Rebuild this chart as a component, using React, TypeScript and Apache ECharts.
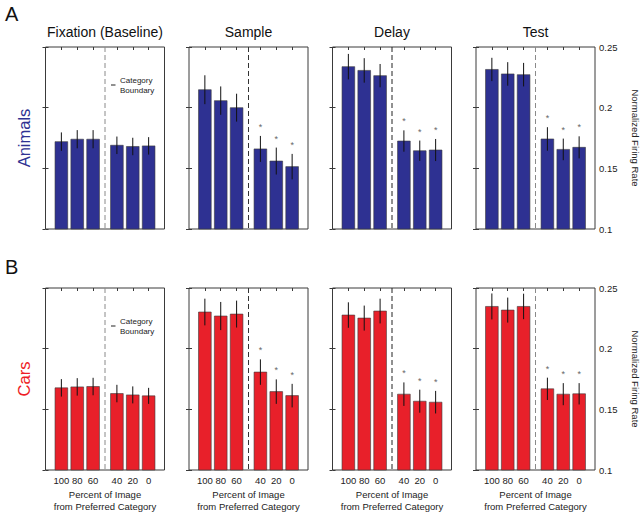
import React, { useEffect, useRef } from "react";
import * as echarts from "echarts";

const categories = ["100", "80", "60", "40", "20", "0"];
const xPositions = [1, 2, 3, 4.5, 5.5, 6.5];
const panelTitles = ["Fixation (Baseline)", "Sample", "Delay", "Test"];
const rowLabels = ["Animals", "Cars"];
const yTickValues = [0.1, 0.15, 0.2, 0.25];

const animalsFixation = [0.172, 0.174, 0.174, 0.169, 0.168, 0.1685];
const animalsFixationErr = [0.0076, 0.0075, 0.0075, 0.0072, 0.0072, 0.0072];
const animalsSample = [0.2148, 0.2058, 0.2, 0.166, 0.156, 0.1514];
const animalsSampleErr = [0.0119, 0.0117, 0.0115, 0.0107, 0.0111, 0.0105];
const animalsDelay = [0.2338, 0.2307, 0.2264, 0.1725, 0.1645, 0.1651];
const animalsDelayErr = [0.0105, 0.0101, 0.0096, 0.0088, 0.0084, 0.0091];
const animalsTest = [0.2315, 0.2278, 0.2272, 0.1742, 0.1656, 0.1673];
const animalsTestErr = [0.0096, 0.0097, 0.0097, 0.0097, 0.0089, 0.0091];

const carsFixation = [0.1677, 0.1685, 0.1688, 0.163, 0.1619, 0.1611];
const carsFixationErr = [0.0072, 0.0072, 0.0072, 0.0072, 0.007, 0.0066];
const carsSample = [0.2302, 0.2269, 0.2285, 0.1807, 0.1646, 0.1613];
const carsSampleErr = [0.011, 0.0116, 0.0111, 0.0105, 0.0101, 0.0097];
const carsDelay = [0.2277, 0.2252, 0.231, 0.1625, 0.1567, 0.1559];
const carsDelayErr = [0.0105, 0.0103, 0.0102, 0.0097, 0.0095, 0.0093];
const carsTest = [0.2348, 0.2318, 0.2348, 0.1669, 0.1625, 0.1628];
const carsTestErr = [0.0107, 0.0103, 0.0105, 0.0092, 0.0091, 0.0088];

// significance markers (1 = asterisk) per panel
const sigFixation = [0, 0, 0, 0, 0, 0];
const sigOther = [0, 0, 0, 1, 1, 1];

const FONT = "'Liberation Sans', Arial, Helvetica, sans-serif";
const BLUE = "#2E3192";
const RED = "#E8202A";

const rows = [
  {
    color: BLUE,
    labelColor: "#2E3192",
    values: [animalsFixation, animalsSample, animalsDelay, animalsTest],
    errs: [animalsFixationErr, animalsSampleErr, animalsDelayErr, animalsTestErr],
  },
  {
    color: RED,
    labelColor: "#EE1C25",
    values: [carsFixation, carsSample, carsDelay, carsTest],
    errs: [carsFixationErr, carsSampleErr, carsDelayErr, carsTestErr],
  },
];

const panelLefts = [45.5, 189, 332.5, 476];
const panelWidth = 119;
const rowTops = [47, 288];
const panelHeight = 182;
const dashColors = ["#8a8a8a", "#333333", "#222222", "#8a8a8a"];

export default function App() {
  const ref = useRef<HTMLDivElement>(null);

  useEffect(() => {
    if (!ref.current) return;
    const chart = echarts.init(ref.current, null, { renderer: "svg" });

    const grids: any[] = [];
    const xAxes: any[] = [];
    const yAxes: any[] = [];
    const series: any[] = [];
    const graphics: any[] = [];

    rows.forEach((row, r) => {
      for (let p = 0; p < 4; p++) {
        const gi = r * 4 + p;
        grids.push({
          left: panelLefts[p],
          top: rowTops[r],
          width: panelWidth,
          height: panelHeight,
          show: true,
          borderColor: "#3a3a3a",
          borderWidth: 1,
          backgroundColor: "transparent",
          containLabel: false,
        });
        const isBottomRow = r === 1;
        xAxes.push({
          type: "value",
          gridIndex: gi,
          position: "bottom",
          min: 0,
          max: 7.5,
          axisLine: { show: false },
          splitLine: { show: false },
          axisTick: {
            show: true,
            inside: true,
            length: 3,
            customValues: xPositions,
            lineStyle: { color: "#3a3a3a" },
          },
          axisLabel: {
            show: isBottomRow,
            customValues: xPositions,
            margin: 5,
            fontSize: 9.5,
            fontFamily: FONT,
            color: "#222",
            formatter: (v: number) => {
              const idx = xPositions.findIndex((x) => Math.abs(x - v) < 1e-6);
              return idx >= 0 ? categories[idx] : "";
            },
          },
        });
        xAxes.push({
          type: "value",
          gridIndex: gi,
          position: "top",
          min: 0,
          max: 7.5,
          axisLine: { show: false },
          splitLine: { show: false },
          axisTick: {
            show: true,
            inside: true,
            length: 3,
            customValues: xPositions,
            lineStyle: { color: "#3a3a3a" },
          },
          axisLabel: { show: false },
        });
        yAxes.push({
          type: "value",
          gridIndex: gi,
          position: "left",
          min: 0.1,
          max: 0.25,
          interval: 0.05,
          axisLine: { show: false },
          splitLine: { show: false },
          axisTick: { show: true, inside: true, length: 3, lineStyle: { color: "#3a3a3a" } },
          axisLabel: { show: false },
        });
        yAxes.push({
          type: "value",
          gridIndex: gi,
          position: "right",
          min: 0.1,
          max: 0.25,
          interval: 0.05,
          axisLine: { show: false },
          splitLine: { show: false },
          axisTick: { show: true, inside: true, length: 3, lineStyle: { color: "#3a3a3a" } },
          axisLabel: {
            show: p === 3,
            customValues: yTickValues,
            margin: 4,
            fontSize: 9.5,
            fontFamily: FONT,
            color: "#222",
            formatter: (v: number) => String(Math.round(v * 100) / 100),
          },
        });

        const vals = row.values[p];
        const errs = row.errs[p];
        const sig = p === 0 ? sigFixation : sigOther;
        const data = vals.map((v, i) => [xPositions[i], v, errs[i], sig[i]]);
        const barColor = row.color;
        const dashColor = dashColors[p];

        series.push({
          type: "custom",
          xAxisIndex: gi * 2,
          yAxisIndex: gi * 2,
          silent: true,
          clip: false,
          data,
          renderItem: (params: any, api: any) => {
            const x = api.value(0);
            const v = api.value(1);
            const e = api.value(2);
            const s = api.value(3);
            const top = api.coord([x, v]);
            const base = api.coord([x, 0.1]);
            const w = api.size([0.8, 0])[0];
            const eTop = api.coord([x, v + e]);
            const eBot = api.coord([x, v - e]);
            const children: any[] = [
              {
                type: "rect",
                shape: { x: top[0] - w / 2, y: top[1], width: w, height: base[1] - top[1] },
                style: { fill: barColor, stroke: "#3a3a3a", lineWidth: 0.6 },
              },
              {
                type: "line",
                shape: { x1: eTop[0], y1: eTop[1], x2: eBot[0], y2: eBot[1] },
                style: { stroke: "#111", lineWidth: 1 },
              },
            ];
            if (s) {
              children.push({
                type: "text",
                x: eTop[0],
                y: eTop[1] - 9,
                style: {
                  text: "*",
                  fontSize: 9,
                  fontFamily: FONT,
                  fill: "#666",
                  align: "center",
                  verticalAlign: "middle",
                },
              });
            }
            if (params.dataIndex === 0) {
              const d1 = api.coord([3.75, 0.25]);
              const d2 = api.coord([3.75, 0.1]);
              children.push({
                type: "line",
                shape: { x1: d1[0], y1: d1[1], x2: d2[0], y2: d2[1] },
                style: { stroke: dashColor, lineWidth: 1, lineDash: [5, 3] },
              });
            }
            return { type: "group", children };
          },
        });

        if (p === 0) {
          const ly = rowTops[r] + 38;
          graphics.push({
            type: "line",
            shape: { x1: 111, y1: ly, x2: 115.5, y2: ly },
            style: { stroke: "#222", lineWidth: 1 },
          });
          graphics.push({
            type: "text",
            x: 120,
            y: ly - 4.5,
            style: { text: "Category", fontSize: 8, fontFamily: FONT, fill: "#222", align: "left", verticalAlign: "middle" },
          });
          graphics.push({
            type: "text",
            x: 120,
            y: ly + 5.5,
            style: { text: "Boundary", fontSize: 8, fontFamily: FONT, fill: "#222", align: "left", verticalAlign: "middle" },
          });
        }

        if (r === 0) {
          graphics.push({
            type: "text",
            x: panelLefts[p] + panelWidth / 2,
            y: 32,
            style: { text: panelTitles[p], fontSize: 14, fontFamily: FONT, fill: "#111", align: "center", verticalAlign: "middle" },
          });
        }
        if (r === 1) {
          graphics.push({
            type: "text",
            x: panelLefts[p] + panelWidth / 2,
            y: 494.3,
            style: { text: "Percent of Image", fontSize: 9.5, fontFamily: FONT, fill: "#222", align: "center", verticalAlign: "middle" },
          });
          graphics.push({
            type: "text",
            x: panelLefts[p] + panelWidth / 2,
            y: 506,
            style: { text: "from Preferred Category", fontSize: 9.5, fontFamily: FONT, fill: "#222", align: "center", verticalAlign: "middle" },
          });
        }
      }

      const cy = rowTops[r] + panelHeight / 2;
      graphics.push({
        type: "text",
        x: 24,
        y: cy,
        rotation: Math.PI / 2,
        style: { text: rowLabels[r], fontSize: 16.5, fontFamily: FONT, fill: row.labelColor, align: "center", verticalAlign: "middle" },
      });
      graphics.push({
        type: "text",
        x: 635.5,
        y: cy,
        rotation: -Math.PI / 2,
        style: { text: "Normalized Firing Rate", fontSize: 9.5, fontFamily: FONT, fill: "#222", align: "center", verticalAlign: "middle" },
      });
    });

    graphics.push({
      type: "text",
      x: 11.7,
      y: 14,
      style: { text: "A", fontSize: 20, fontFamily: FONT, fill: "#111", align: "center", verticalAlign: "middle" },
    });
    graphics.push({
      type: "text",
      x: 11.7,
      y: 267,
      style: { text: "B", fontSize: 20, fontFamily: FONT, fill: "#111", align: "center", verticalAlign: "middle" },
    });

    chart.setOption({
      animation: false,
      backgroundColor: "#ffffff",
      grid: grids,
      xAxis: xAxes,
      yAxis: yAxes,
      series,
      graphic: graphics,
    });

    return () => {
      chart.dispose();
    };
  }, []);

  return (
    <div
      ref={ref}
      style={{ position: "fixed", left: 0, top: 0, width: 642, height: 514, background: "#fff" }}
    />
  );
}
